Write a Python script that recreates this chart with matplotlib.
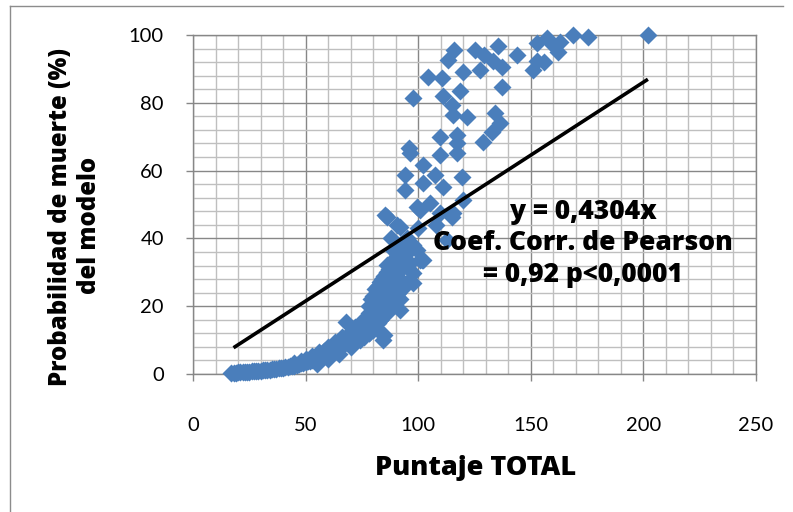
import matplotlib
matplotlib.use("Agg")
import matplotlib.pyplot as plt
from matplotlib.ticker import MultipleLocator
from matplotlib.lines import Line2D

plt.rcParams["font.family"] = ["Lato", "DejaVu Sans"]
BOLD = ["Open Sans", "DejaVu Sans"]

# low, thin part of the curve (x 17-70)
low_x = [17, 18, 19, 20, 21, 22, 23, 24, 25, 26, 27, 28, 29, 30, 31, 32, 33, 34,
         35, 36, 37, 38, 39, 40, 41, 42, 43, 44, 45, 46, 47, 48, 49, 50, 51, 52,
         53, 54, 55, 56, 57, 58, 59, 60, 61, 62, 63, 64, 65, 66, 67, 68, 69, 70,
         45, 48, 50, 53, 56, 58, 61, 64, 66, 69, 71, 73, 75, 77, 79, 81, 83,
         55, 60, 65, 70, 74, 78]
low_y = [0.3, 0.4, 0.4, 0.5, 0.5, 0.6, 0.6, 0.7, 0.7, 0.8, 0.8, 0.9, 1.0, 1.0,
         1.1, 1.2, 1.2, 1.3, 1.4, 1.5, 1.6, 1.7, 1.8, 1.9, 2.0, 2.1, 2.3, 2.4,
         2.5, 2.7, 2.9, 3.1, 3.3, 3.5, 3.7, 3.9, 4.1, 4.3, 4.6, 4.9, 5.2, 5.5,
         5.8, 6.1, 6.5, 6.9, 7.2, 7.6, 8.0, 8.4, 8.9, 9.3, 9.8, 10.3,
         3.2, 3.8, 4.3, 5.2, 6.0, 6.8, 7.8, 9.0, 10.0, 11.5, 9.0, 10.5, 11.5,
         12.5, 13.5, 14.5, 16.0,
         3.0, 4.5, 6.0, 8.0, 10.0, 12.0]

# dense rising band (x 70-100)
band_x = [56, 60, 63, 66, 68, 70, 72, 74, 75, 76, 78, 80, 82, 84.5, 85,
          71, 72, 73, 74, 75, 76, 77, 78, 79, 80, 81, 82, 83, 84, 85, 86, 87,
          88, 89, 90, 91, 92, 93, 94, 95, 96,
          76, 78, 80, 82, 83, 84, 85, 86, 87, 88, 89, 90, 91, 92, 93,
          78, 79, 80, 81, 82, 83, 84, 85, 86, 87, 88, 89, 90, 91, 92, 93, 94]
band_y = [6.5, 8, 9.5, 11, 15.4, 12.5, 14, 13, 15.5, 16, 18, 15, 13, 10, 11.5,
          11, 12, 12.5, 14, 14.5, 13.5, 15, 16.5, 17, 18.5, 19, 20, 21, 22, 23,
          24, 22, 27, 28, 30, 31, 33, 34, 35, 36, 37,
          11, 12, 13, 15, 16, 17, 19, 18, 20, 21, 22, 23, 24, 26, 27,
          20, 22, 23, 25, 26, 27, 28, 29, 30, 31, 32, 31, 34, 35, 36, 37, 39]

# scattered upper part
up_x = [80, 82, 83, 84, 86, 86, 87.5, 89, 89, 89, 90.4, 91.9, 91, 92, 93,
        94.9, 94.9, 96.4, 97.8, 97.8, 97.8, 99.3, 100.8, 101.5, 102.3,
        90.4, 91.9, 85.3, 86, 88, 93, 95, 100, 99.3, 100.8, 105.2, 108, 109.7,
        112.7, 114.9, 115.5, 120, 111.1, 102.3, 94.1, 94.1, 107.5, 119.3,
        102.3, 96.4, 109.7, 117.1, 96.1,
        128.9, 132.6, 136.3, 134.1, 109.7, 117.1, 117.1, 114.9, 115.6, 121.5,
        97.8, 111.1, 118.6, 104.5, 110.4, 137.1, 120.0, 127.4, 133.4, 137.1,
        113.4, 115.9, 125.2, 129.2, 135.6, 143.7,
        151.0, 152.6, 152.6, 157.0, 156.0, 160.0, 162.0, 163.0, 168.7, 175.4,
        202.0]
up_y = [21.8, 24, 22.8, 26, 29.7, 32.2, 24.8, 26.7, 33.6, 36.6, 29.7, 18.9,
        28.7, 22, 25, 26.7, 31.7, 32.7, 29.7, 26.7, 38, 36.6, 33.6, 33.6, 33.6,
        44, 43.5, 46.9, 46.4, 40, 38, 40, 43, 49.4, 48.4, 50.4, 44, 47.4,
        39.5, 46.4, 47.5, 51.3, 55.3, 56.3, 54.3, 58.7, 58.7, 58.2,
        61.7, 65.2, 64.6, 65.2, 66.6,
        68.5, 71.5, 73.9, 76.9, 70.0, 70.5, 68.0, 79.4, 76.4, 75.9,
        81.3, 82.0, 83.5, 87.7, 87.2, 84.8, 89.2, 89.7, 92.2, 90.7,
        92.6, 95.6, 95.6, 94.1, 96.9, 94.1,
        89.7, 92.2, 97.5, 99.0, 92.0, 97.0, 95.0, 98.0, 100.0, 99.4,
        100.0]

SLOPE = 0.4304
TREND_X = [18, 202]

x_ticks = [0, 50, 100, 150, 200, 250]
y_ticks = [0, 20, 40, 60, 80, 100]
note_lines = ["y = 0,4304x", "Coef. Corr. de Pearson", "= 0,92 p<0,0001"]

fig = plt.figure(figsize=(7.93, 5.12), dpi=100)
ax = fig.add_axes([193 / 793, 1 - 374 / 512, (756 - 193) / 793, (374 - 35) / 512])

xs = low_x + band_x + up_x
ys = low_y + band_y + up_y
ax.plot(xs, ys, "D", ms=9.5, color="#4A7EBB", mec="none", zorder=3, clip_on=False)
ax.plot(TREND_X, [SLOPE * v for v in TREND_X], color="black", lw=2.6,
        solid_capstyle="butt", zorder=4)

ax.set_xlim(0, 250)
ax.set_ylim(0, 100)
ax.set_xticks(x_ticks)
ax.set_yticks(y_ticks)
ax.xaxis.set_minor_locator(MultipleLocator(10))
ax.yaxis.set_minor_locator(MultipleLocator(4))
ax.grid(which="minor", color="#BFBFBF", lw=1.0, zorder=0)
ax.grid(which="major", color="#878787", lw=1.0, zorder=1)
ax.set_axisbelow(True)
for s in ax.spines.values():
    s.set_color("#878787")
    s.set_linewidth(1.0)
ax.tick_params(which="major", direction="out", length=5, width=1,
               color="#878787", labelsize=14.5)
ax.tick_params(axis="x", pad=26)
ax.tick_params(axis="y", pad=16)
ax.tick_params(which="minor", length=0)

# trend-line note, one text per line
for txt, py in zip(note_lines, [212, 243, 275]):
    fig.text(583 / 793, 1 - py / 512, txt, ha="center", va="center",
             fontsize=19, fontweight=800, family=BOLD, zorder=5)

fig.text(476 / 793, 1 - 468 / 512, "Puntaje TOTAL", ha="center", va="center",
         fontsize=19.5, fontweight=800, family=BOLD)
fig.text(61 / 793, 1 - 217 / 512, "Probabilidad de muerte (%)", ha="center",
         va="center", rotation=90, fontsize=17.3, fontweight=800, family=BOLD)
fig.text(89 / 793, 1 - 225 / 512, "del modelo", ha="center", va="center",
         rotation=90, fontsize=17.3, fontweight=800, family=BOLD)

# outer chart border (top and left visible)
fig.add_artist(Line2D([10 / 793, 783 / 793], [1 - 6 / 512, 1 - 6 / 512],
                      transform=fig.transFigure, color="#8C8C8C", lw=1))
fig.add_artist(Line2D([10 / 793, 10 / 793], [0, 1 - 6 / 512],
                      transform=fig.transFigure, color="#8C8C8C", lw=1))

fig.savefig("out.png", dpi=100)
